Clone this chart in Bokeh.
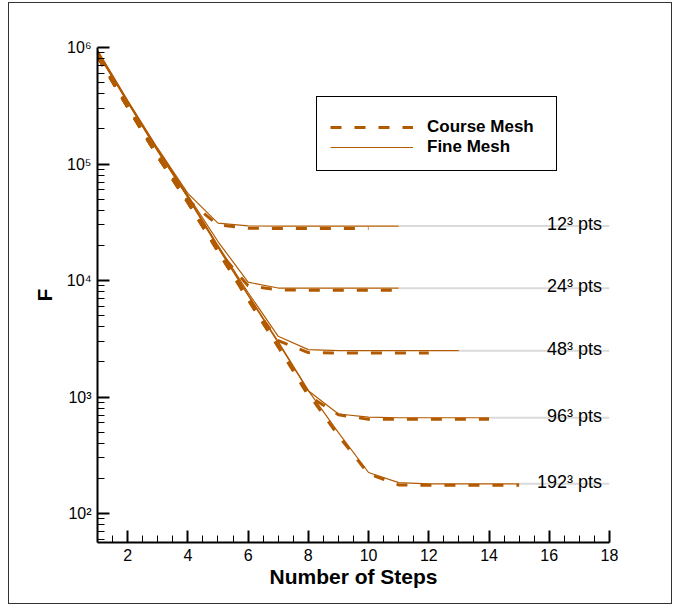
from bokeh.plotting import figure
from bokeh.models import (FixedTicker, Legend, LegendItem, Range1d,
                          CustomJSTickFormatter, InlineStyleSheet)
from bokeh.embed import file_html
from bokeh.resources import INLINE
from bokeh.core.properties import value

# ---------------- data ----------------
mesh_labels = ["12³ pts", "24³ pts", "48³ pts", "96³ pts", "192³ pts"]

fine_steps_12 = [1, 2, 3, 4, 5, 6, 7, 8, 9, 10, 11]
fine_12 = [950000, 352000, 136000, 56000, 31100, 29400, 29300, 29300, 29300, 29300, 29300]
coarse_steps_12 = [1, 2, 3, 4, 5, 6, 7, 8, 9, 10]
coarse_12 = [860000, 313000, 119000, 49000, 30000, 28100, 28000, 28000, 28000, 28000]

fine_steps_24 = [1, 2, 3, 4, 5, 6, 7, 8, 9, 10, 11]
fine_24 = [930000, 345000, 134000, 53800, 21600, 9670, 8620, 8590, 8590, 8590, 8590]
coarse_steps_24 = [1, 2, 3, 4, 5, 6, 7, 8, 9, 10, 11]
coarse_24 = [840000, 307000, 116000, 46800, 18100, 9000, 8300, 8250, 8250, 8250, 8250]

fine_steps_48 = [1, 2, 3, 4, 5, 6, 7, 8, 9, 10, 11, 12, 13]
fine_48 = [910000, 345000, 131000, 52700, 20000, 7890, 3320, 2550, 2500, 2500, 2500, 2500, 2500]
coarse_steps_48 = [1, 2, 3, 4, 5, 6, 7, 8, 9, 10, 11, 12]
coarse_48 = [840000, 313000, 119000, 47800, 18100, 7000, 3050, 2405, 2390, 2390, 2390, 2390]

fine_steps_96 = [1, 2, 3, 4, 5, 6, 7, 8, 9, 10, 11, 12, 13, 14]
fine_96 = [910000, 339000, 131000, 51700, 19600, 7580, 2990, 1134, 715, 671, 664, 664, 664, 664]
coarse_steps_96 = [1, 2, 3, 4, 5, 6, 7, 8, 9, 10, 11, 12, 13, 14]
coarse_96 = [840000, 307000, 116000, 46800, 17800, 6870, 2710, 1027, 705, 643, 643, 643, 643, 643]

fine_steps_192 = [1, 2, 3, 4, 5, 6, 7, 8, 9, 10, 11, 12, 13, 14, 15]
fine_192 = [890000, 339000, 128500, 51700, 19200, 7430, 2930, 1134, 494, 225, 184, 180, 180, 180, 180]
coarse_steps_192 = [1, 2, 3, 4, 5, 6, 7, 8, 9, 10, 11, 12, 13, 14, 15]
coarse_192 = [840000, 307000, 116000, 46800, 17800, 6870, 2710, 1069, 465, 219, 176, 175, 175, 175, 175]

plateau_values = [29300, 8590, 2500, 664, 180]
plateau_start = [11, 11, 13, 14, 15]
plateau_end = [18, 18, 18, 18, 18]
label_step = [17.75, 17.75, 17.75, 17.75, 17.75]

x_major = [2, 4, 6, 8, 10, 12, 14, 16, 18]
x_minor = [1.5, 2.5, 3, 3.5, 4.5, 5, 5.5, 6.5, 7, 7.5, 8.5, 9, 9.5, 10.5, 11, 11.5,
           12.5, 13, 13.5, 14.5, 15, 15.5, 16.5, 17, 17.5]
y_major = [1e2, 1e3, 1e4, 1e5, 1e6]
y_minor = [60, 70, 80, 90] + [m * d for d in (1e2, 1e3, 1e4, 1e5) for m in range(2, 10)]

# ---------------- styling ----------------
ORANGE = "#B25A00"
FONT = "Liberation Sans"

frame_css = InlineStyleSheet(css="""
:host { position: relative; }
:host::after {
  content: "";
  position: absolute;
  left: 8px; top: 2px; width: 664px; height: 602px;
  border: 1.5px solid #333333;
  box-sizing: border-box;
  pointer-events: none;
}
:host::before {
  content: "";
  position: absolute;
  left: 316px; top: 96px; width: 241px; height: 75px;
  border: 1px solid #000000;
  box-sizing: border-box;
  pointer-events: none;
  z-index: 5;
}
""")

p = figure(width=680, height=609, y_axis_type="log",
           x_range=Range1d(1, 18), y_range=Range1d(56.4, 1e6),
           output_backend="svg", toolbar_location=None,
           min_border_left=97, min_border_right=71, min_border_top=47, min_border_bottom=67,
           background_fill_color="white", border_fill_color="white",
           stylesheets=[frame_css])
p.outline_line_color = None
p.grid.visible = False

# grey reference lines + labels
p.segment(x0=plateau_start, y0=plateau_values, x1=plateau_end, y1=plateau_values,
          line_color="#DADADA", line_width=2)
p.text(x=label_step, y=plateau_values, text=mesh_labels, text_align="right",
       text_baseline="alphabetic", y_offset=-2, text_font=value(FONT),
       text_font_size="18px", text_color="black")

coarse_sets = [(coarse_steps_12, coarse_12), (coarse_steps_24, coarse_24),
               (coarse_steps_48, coarse_48), (coarse_steps_96, coarse_96),
               (coarse_steps_192, coarse_192)]
fine_sets = [(fine_steps_12, fine_12), (fine_steps_24, fine_24),
             (fine_steps_48, fine_48), (fine_steps_96, fine_96),
             (fine_steps_192, fine_192)]

coarse_r = []
for xs, ys in coarse_sets:
    coarse_r.append(p.line(xs, ys, line_color=ORANGE, line_width=3, line_dash="11 13"))
fine_r = []
for xs, ys in fine_sets:
    fine_r.append(p.line(xs, ys, line_color=ORANGE, line_width=1.2))

# axes
p.xaxis.ticker = FixedTicker(ticks=x_major, minor_ticks=x_minor)
p.yaxis.ticker = FixedTicker(ticks=y_major, minor_ticks=y_minor)
p.yaxis.formatter = CustomJSTickFormatter(code="""
const sup = {"0":"\u2070","1":"\u00b9","2":"\u00b2","3":"\u00b3","4":"\u2074","5":"\u2075","6":"\u2076","7":"\u2077","8":"\u2078","9":"\u2079","-":"\u207b"};
const e = Math.round(Math.log10(tick));
return "10" + String(e).split("").map(c => sup[c]).join("");
""")
for ax in (p.xaxis[0], p.yaxis[0]):
    ax.axis_line_width = 2
    ax.axis_line_color = "black"
    ax.major_tick_line_width = 2
    ax.major_tick_line_color = "black"
    ax.minor_tick_line_width = 1
    ax.minor_tick_line_color = "black"
    ax.major_tick_in = 12
    ax.major_tick_out = 0
    ax.minor_tick_in = 7
    ax.minor_tick_out = 0
    ax.major_label_text_font = FONT
    ax.major_label_text_color = "black"
    ax.axis_label_text_font = FONT
    ax.axis_label_text_font_style = "bold"
    ax.axis_label_text_color = "black"
    ax.axis_label_text_font_size = "21px"

p.xaxis.major_label_text_font_size = "16px"
p.yaxis.major_label_text_font_size = "16px"
p.xaxis.major_label_standoff = 6
p.yaxis.major_label_standoff = 6
p.xaxis.axis_label = "Number of Steps"
p.yaxis.axis_label = "F"
p.xaxis.axis_label_standoff = 1
p.yaxis.axis_label_standoff = 8

# legend box is drawn by the stylesheet; without a border Bokeh applies no padding
legend = Legend(items=[LegendItem(label="Course Mesh", renderers=[coarse_r[0]]),
                       LegendItem(label="Fine Mesh", renderers=[fine_r[0]])],
                location=(233, 385), orientation="vertical",
                border_line_color=None,
                background_fill_color="white", background_fill_alpha=0,
                padding=0, spacing=0, margin=0,
                glyph_width=83, glyph_height=20, label_height=20, label_standoff=14,
                label_text_font=FONT, label_text_font_style="bold",
                label_text_font_size="17px", label_text_color="black")
p.add_layout(legend)

open("out.html", "w").write(file_html(p, INLINE))
